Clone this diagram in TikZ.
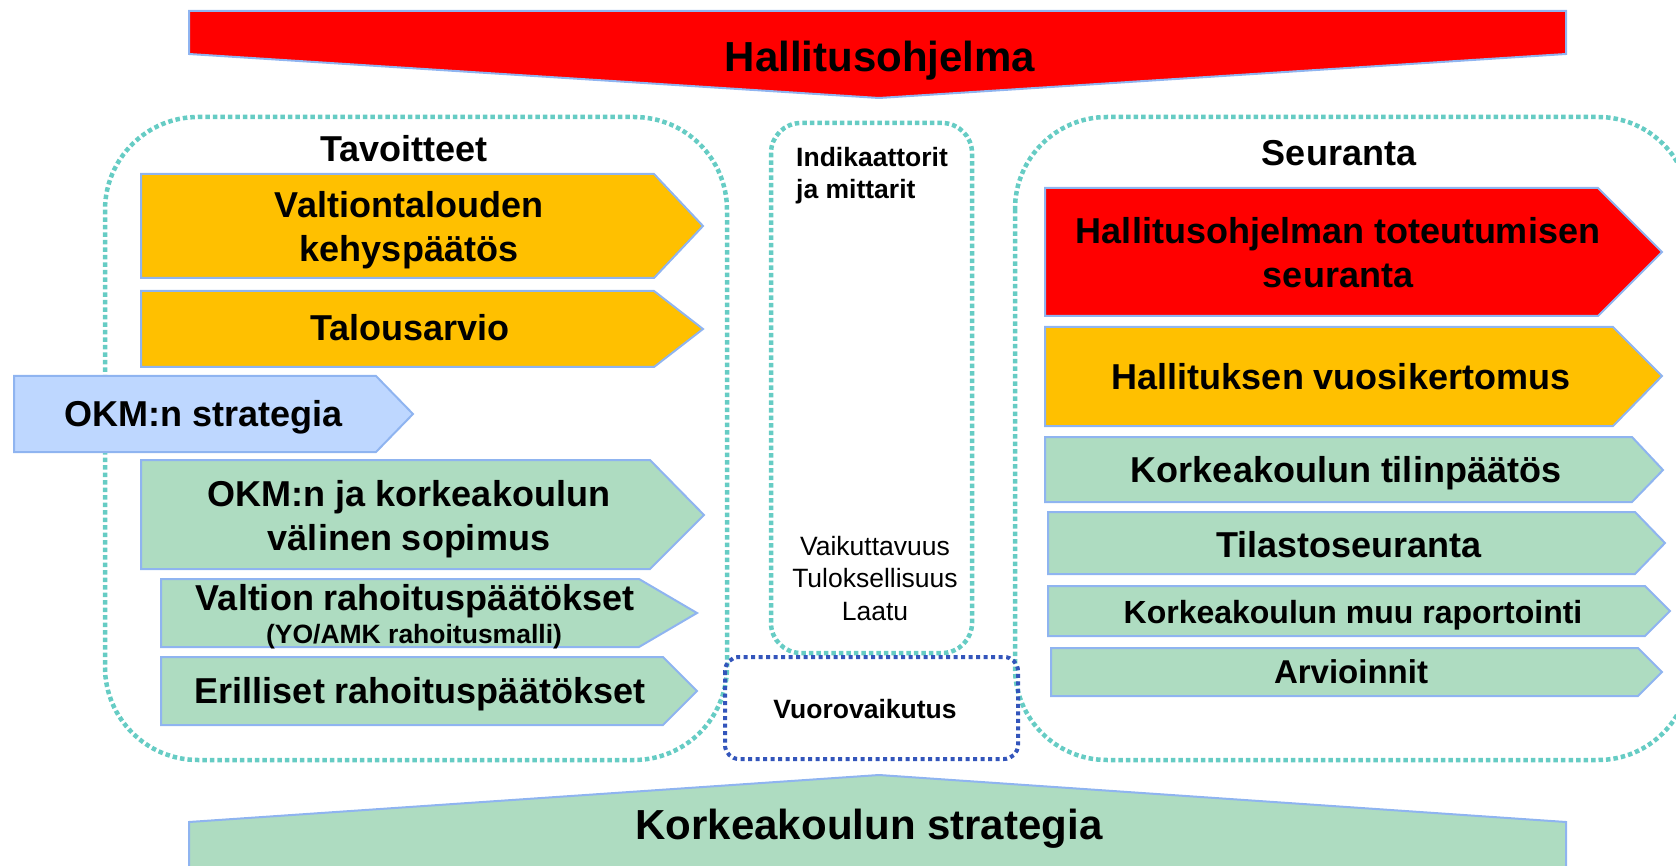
\documentclass[tikz,border=0pt]{standalone}
\usepackage{fontspec}
\setmainfont{Liberation Sans}
\usetikzlibrary{positioning}
\definecolor{okmred}{RGB}{255,0,0}
\definecolor{okmorange}{RGB}{255,192,0}
\definecolor{okmgreen}{RGB}{174,220,193}
\definecolor{okmblue}{RGB}{190,215,255}
\definecolor{okmedge}{RGB}{143,180,240}
\definecolor{okmteal}{RGB}{102,204,196}
\definecolor{okmnavy}{RGB}{51,85,187}
\tikzset{
	chev/.style={draw=okmedge, line width=2pt, line join=miter},
	tealbox/.style={draw=okmteal, line width=4.5pt, dash pattern=on 4.5pt off 3pt},
	navybox/.style={draw=okmnavy, line width=4pt, dash pattern=on 4pt off 3.5pt},
	hugetxt/.style={font=\fontsize{42}{50}\selectfont\bfseries, anchor=base, inner sep=0pt},
	bigtxt/.style={font=\fontsize{36}{44}\selectfont\bfseries, align=center, anchor=base, inner sep=0pt},
	midtxt/.style={font=\fontsize{32}{38}\selectfont\bfseries, anchor=base, inner sep=0pt},
	smalltxt/.style={font=\fontsize{26.5}{32.5}\selectfont\bfseries, inner sep=0pt},
}

\begin{document}
\begin{tikzpicture}[x=1pt, y=-1pt]
			\useasboundingbox (0,0) rectangle (1676,866);
			% groups
			\draw[tealbox, rounded corners=93pt] (105,117) rectangle (727,760);
			\draw[tealbox, rounded corners=92pt] (1015,117) rectangle (1690,760);
			\draw[tealbox, rounded corners=30pt] (771,123) rectangle (972,653);
			\draw[navybox, rounded corners=14pt] (725,657) rectangle (1018,759);
			
			% banners
			\filldraw[chev, fill=okmred] (189,11) -- (1566,11) -- (1566,54) -- (879,98) -- (189,54) -- cycle;
			\filldraw[chev, fill=okmgreen] (189,822) -- (879,775) -- (1566,822) -- (1566,900) -- (189,900) -- cycle;
			\node[hugetxt] (hallitus) at (880,72) {Hallitusohjelma};
			\node[hugetxt] (kkstrat) at (869,839) {Korkeakoulun strategia};
			
			% tavoitteet
			\node[bigtxt] (tavoitteet) at (404,162) {Tavoitteet};
			\filldraw[chev, fill=okmorange] (141,174) -- (654,174) -- (703,226) -- (654,278) -- (141,278) -- cycle;
			\filldraw[chev, fill=okmorange] (141,291) -- (654,291) -- (703,329) -- (654,367) -- (141,367) -- cycle;
			\filldraw[chev, fill=okmblue] (14,376) -- (376,376) -- (413,414) -- (376,452) -- (14,452) -- cycle;
			\filldraw[chev, fill=okmgreen] (141,460) -- (650,460) -- (704,515) -- (650,569) -- (141,569) -- cycle;
			\filldraw[chev, fill=okmgreen] (161,579) -- (639,579) -- (697,613) -- (639,647) -- (161,647) -- cycle;
			\filldraw[chev, fill=okmgreen] (161,657) -- (663,657) -- (697,691) -- (663,725) -- (161,725) -- cycle;
			\node[bigtxt] (kehys) at (409,262) {Valtiontalouden\\kehyspäätös};
			\node[bigtxt] (talous) at (410,341) {Talousarvio};
			\node[bigtxt] (okmstrat) at (204,427) {OKM:n strategia};
			\node[bigtxt] (sopimus) at (409,550) {OKM:n ja korkeakoulun\\välinen sopimus};
			\node[bigtxt] (valtion) at (415,610) {Valtion rahoituspäätökset};
			\node[smalltxt, anchor=base] (yoamk) at (414,643) {(YO/AMK rahoitusmalli)};
			\node[bigtxt] (erilliset) at (420,703) {Erilliset rahoituspäätökset};
			
			% indikaattorit
			\node[smalltxt, anchor=base west, align=left] (indik) at (796,199) {Indikaattorit\\ja mittarit};
			\node[smalltxt, anchor=base, align=center, font=\fontsize{26.5}{32.5}\selectfont] (vaikut) at (875,620) {Vaikuttavuus\\Tuloksellisuus\\Laatu};
			\node[smalltxt, anchor=base] (vuoro) at (865,718) {Vuorovaikutus};
			
			% seuranta
			\node[bigtxt] (seuranta) at (1339,166) {Seuranta};
			\filldraw[chev, fill=okmred] (1045,188) -- (1598,188) -- (1662,252) -- (1598,316) -- (1045,316) -- cycle;
			\filldraw[chev, fill=okmorange] (1045,327) -- (1613,327) -- (1662,376) -- (1613,426) -- (1045,426) -- cycle;
			\filldraw[chev, fill=okmgreen] (1045,437) -- (1632,437) -- (1663,470) -- (1632,502) -- (1045,502) -- cycle;
			\filldraw[chev, fill=okmgreen] (1048,512) -- (1635,512) -- (1665,543) -- (1635,574) -- (1048,574) -- cycle;
			\filldraw[chev, fill=okmgreen] (1048,586) -- (1645,586) -- (1670,611) -- (1645,636) -- (1048,636) -- cycle;
			\filldraw[chev, fill=okmgreen] (1051,648) -- (1638,648) -- (1662,672) -- (1638,696) -- (1051,696) -- cycle;
			\node[bigtxt] (hot) at (1338,288) {Hallitusohjelman toteutumisen\\seuranta};
			\node[bigtxt] (vuosi) at (1341,390) {Hallituksen vuosikertomus};
			\node[bigtxt] (tilin) at (1346,482) {Korkeakoulun tilinpäätös};
			\node[bigtxt] (tilasto) at (1349,557) {Tilastoseuranta};
			\node[midtxt] (muu) at (1353,623) {Korkeakoulun muu raportointi};
			\node[midtxt, font=\fontsize{33}{40}\selectfont\bfseries] (arvioinnit) at (1351,683) {Arvioinnit};
		\end{tikzpicture}
\end{document}
